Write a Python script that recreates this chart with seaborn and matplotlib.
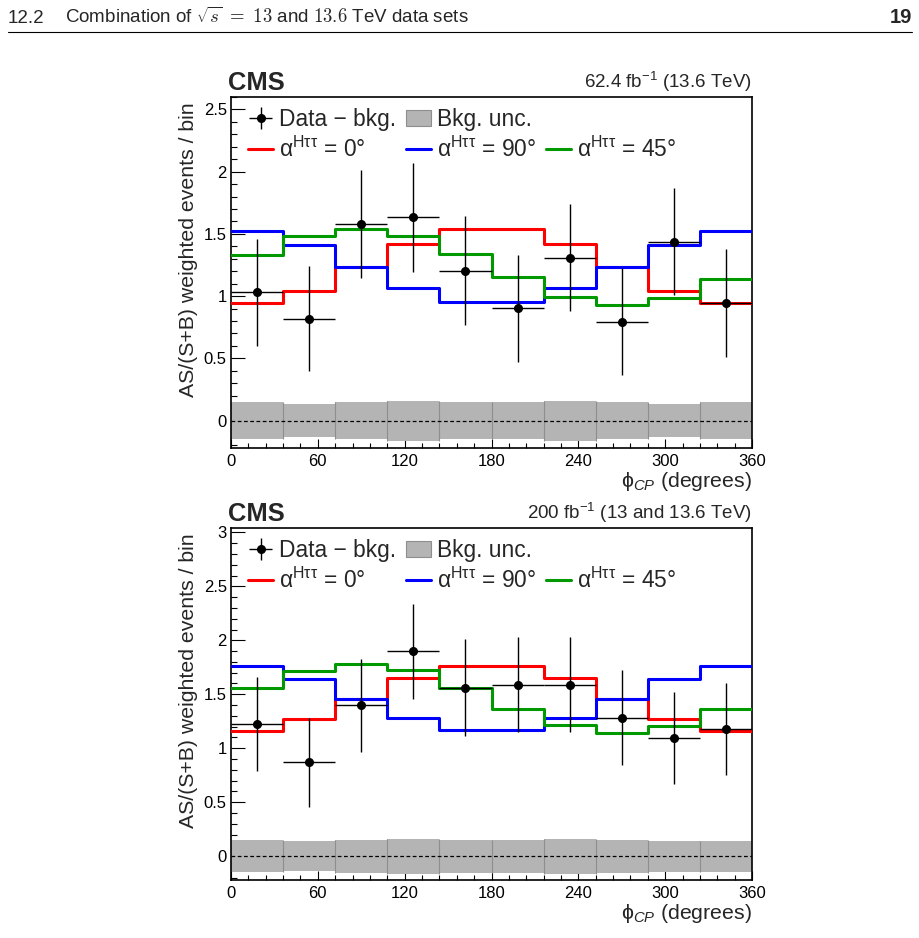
import numpy as np
import matplotlib
matplotlib.use("Agg")
import matplotlib.pyplot as plt
import seaborn as sns
from matplotlib.lines import Line2D
from matplotlib.patches import Patch
from matplotlib.ticker import MultipleLocator, FormatStrFormatter

# phi_CP binning (10 bins of 36 degrees)
bin_edges = [0, 36, 72, 108, 144, 180, 216, 252, 288, 324, 360]
bin_centers = [18, 54, 90, 126, 162, 198, 234, 270, 306, 342]

# upper panel: 62.4 fb-1 (13.6 TeV)
top_alpha0 = [0.945, 1.044, 1.235, 1.42, 1.54, 1.54, 1.42, 1.235, 1.044, 0.945]
top_alpha90 = [1.526, 1.414, 1.235, 1.066, 0.953, 0.953, 1.066, 1.235, 1.414, 1.526]
top_alpha45 = [1.328, 1.48, 1.54, 1.486, 1.341, 1.154, 0.994, 0.926, 0.985, 1.14]
top_data = [1.03, 0.82, 1.58, 1.633, 1.205, 0.902, 1.309, 0.795, 1.438, 0.945]
top_data_err = [0.43, 0.42, 0.435, 0.44, 0.435, 0.43, 0.43, 0.43, 0.43, 0.43]
top_bkg_unc = [0.15, 0.13, 0.15, 0.16, 0.15, 0.15, 0.16, 0.15, 0.13, 0.15]

# lower panel: 200 fb-1 (13 and 13.6 TeV)
bot_alpha0 = [1.164, 1.275, 1.46, 1.648, 1.759, 1.759, 1.648, 1.46, 1.275, 1.164]
bot_alpha90 = [1.759, 1.642, 1.46, 1.281, 1.167, 1.167, 1.281, 1.46, 1.642, 1.759]
bot_alpha45 = [1.559, 1.716, 1.784, 1.722, 1.562, 1.367, 1.213, 1.145, 1.204, 1.364]
bot_data = [1.225, 0.87, 1.40, 1.898, 1.562, 1.59, 1.59, 1.281, 1.093, 1.179]
bot_data_err = [0.435, 0.415, 0.43, 0.44, 0.45, 0.44, 0.44, 0.44, 0.425, 0.43]
bot_bkg_unc = [0.147, 0.14, 0.154, 0.163, 0.154, 0.154, 0.163, 0.154, 0.145, 0.145]

sns.set_style("ticks")
plt.rcParams["font.family"] = ["Liberation Sans", "DejaVu Sans"]
plt.rcParams["mathtext.fontset"] = "custom"
plt.rcParams["mathtext.rm"] = "Liberation Sans"
plt.rcParams["mathtext.it"] = "Liberation Sans:italic"
plt.rcParams["mathtext.bf"] = "Liberation Sans:bold"
plt.rcParams["mathtext.default"] = "regular"

RED, BLUE, GREEN = "#ff0000", "#0000ff", "#009900"


def draw_panel(ax, alpha0, alpha90, alpha45, data, data_err, bkg_unc, ymax, lumi):
    widths = np.diff(bin_edges)
    unc = np.array(bkg_unc)
    ax.bar(bin_centers, 2 * unc, bottom=-unc, width=widths, color="#b4b4b4",
           linewidth=0, zorder=1)
    sep = np.maximum(unc[:-1], unc[1:])
    ax.vlines(bin_edges[1:-1], -sep, sep, color="#8e8e8e", lw=0.8, zorder=1.1)
    ax.axhline(0, color="black", lw=0.9, ls=(0, (3, 2)), zorder=1.2)

    for vals, col in [(alpha0, RED), (alpha90, BLUE), (alpha45, GREEN)]:
        sns.histplot(x=bin_centers, weights=vals, bins=bin_edges, element="step",
                     fill=False, color=col, linewidth=2.2, ax=ax, zorder=3)

    eb = ax.errorbar(bin_centers, data, xerr=widths / 2, yerr=data_err, fmt="o",
                     color="black", ms=5.5, lw=1.0, capsize=0, zorder=4)

    ax.set_xlim(bin_edges[0], bin_edges[-1])
    ax.set_ylim(-0.22, ymax)
    ax.xaxis.set_major_locator(MultipleLocator(60))
    ax.xaxis.set_minor_locator(MultipleLocator(12))
    ax.yaxis.set_major_locator(MultipleLocator(0.5))
    ax.yaxis.set_minor_locator(MultipleLocator(0.1))
    ax.yaxis.set_major_formatter(FormatStrFormatter("%g"))
    ax.tick_params(which="both", direction="in", top=False, right=False,
                   labelsize=12, width=0.8, colors="black")
    ax.tick_params(axis="y", which="major", length=10, pad=3)
    ax.tick_params(axis="y", which="minor", length=4.5)
    ax.tick_params(axis="x", which="major", length=6.5, pad=4)
    ax.tick_params(axis="x", which="minor", length=3.6)
    for s in ax.spines.values():
        s.set_linewidth(1.2)
        s.set_color("black")

    ax.set_ylabel("AS/(S+B) weighted events / bin", fontsize=15.3, loc="top")
    ax.yaxis.set_label_coords(-0.063, 0.985)
    ax.set_xlabel(r"$\phi_{\mathit{CP}}$ (degrees)", fontsize=15.3, loc="right")
    ax.xaxis.set_label_coords(1.0, -0.062)

    ax.text(-0.006, 1.006, "CMS", transform=ax.transAxes, ha="left", va="bottom",
            fontsize=18.4, fontweight="bold")
    ax.text(1.0, 1.008, lumi, transform=ax.transAxes, ha="right", va="bottom",
            fontsize=13.5)

    h_red = Line2D([], [], color=RED, lw=2.2)
    h_blue = Line2D([], [], color=BLUE, lw=2.2)
    h_green = Line2D([], [], color=GREEN, lw=2.2)
    h_bkg = Patch(facecolor="#b4b4b4", edgecolor="#8e8e8e", lw=0.8)
    h_blank = Line2D([], [], alpha=0)
    handles = [eb, h_red, h_bkg, h_blue, h_blank, h_green]
    labels = ["Data \u2212 bkg.", r"$\alpha^{H\tau\tau}$ = 0°",
              "Bkg. unc.", r"$\alpha^{H\tau\tau}$ = 90°", "",
              r"$\alpha^{H\tau\tau}$ = 45°"]
    ax.legend(handles, labels, ncol=3, loc="upper left",
              bbox_to_anchor=(0.033, 0.969), frameon=False, fontsize=16.4,
              handlelength=1.1, handletextpad=0.25, columnspacing=0.45,
              labelspacing=0.25, borderpad=0, borderaxespad=0)


fig = plt.figure(figsize=(9.2, 9.38), dpi=100)
ax_top = fig.add_axes([0.2511, 0.5224, 0.5663, 0.3742])
ax_bot = fig.add_axes([0.2511, 0.0618, 0.5663, 0.3753])

draw_panel(ax_top, top_alpha0, top_alpha90, top_alpha45, top_data, top_data_err,
           top_bkg_unc, 2.6, r"62.4 fb$^{-1}$ (13.6 TeV)")
draw_panel(ax_bot, bot_alpha0, bot_alpha90, bot_alpha45, bot_data, bot_data_err,
           bot_bkg_unc, 3.04, r"200 fb$^{-1}$ (13 and 13.6 TeV)")

# page header
base = 1 - 23 / 938
fig.text(8 / 920, base, "12.2", ha="left", va="baseline", fontsize=13.5)
fig.text(65 / 920, base,
         r"Combination of $\sqrt{\mathit{s}}\ \mathrm{=}\ \mathrm{13}$ and "
         r"$\mathrm{13.6}$ TeV data sets",
         ha="left", va="baseline", fontsize=13.5, math_fontfamily="cm")
fig.text(912 / 920, base, "19", ha="right", va="baseline", fontsize=14.5,
         fontweight="bold")
fig.add_artist(Line2D([8 / 920, 912 / 920], [1 - 32 / 938, 1 - 32 / 938],
                      color="black", lw=0.8, transform=fig.transFigure))

fig.savefig("out.png", dpi=100)
